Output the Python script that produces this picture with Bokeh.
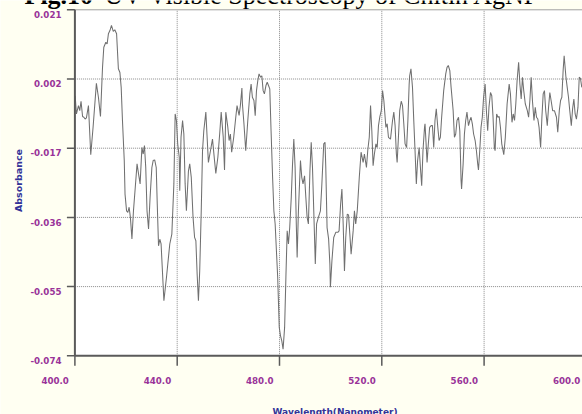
import math
from bokeh.plotting import figure
from bokeh.models import Range1d, Label
from bokeh.embed import file_html
from bokeh.resources import INLINE
from bokeh.core.properties import value

# ---------------- data ----------------
wavelength = [
    400.1, 400.6, 401.4, 401.9, 402.4, 403.0, 403.5, 404.0, 404.5, 405.3, 406.2, 407.1, 408.4, 409.2,
    410.0, 410.8, 411.3, 412.1, 412.6, 413.1, 413.7, 414.3, 415.0, 415.6, 416.3, 417.0, 417.6, 418.1,
    418.6, 419.3, 419.6, 420.2, 420.7, 421.2, 421.7, 422.3, 422.9, 423.6, 424.3, 424.9, 425.5, 426.2,
    426.7, 427.2, 427.7, 428.2, 428.8, 429.4, 430.1, 430.6, 431.2, 431.8, 432.2, 432.7,
    433.2, 433.7, 434.8, 435.8, 437.1, 437.9, 438.7, 439.2, 439.7, 440.2, 440.8, 441.0, 441.5, 442.1,
    442.6, 443.1, 443.6, 444.4, 444.9, 445.5, 446.2, 446.8, 447.3, 447.8, 448.3, 448.8, 449.4, 449.9,
    450.4, 451.2, 451.7, 452.2, 453.0, 453.8, 454.6, 455.1, 455.9, 456.7, 457.2, 458.0, 458.5, 459.0,
    459.8, 460.3, 460.8, 461.3, 462.1, 462.9, 463.4, 464.2, 464.7, 465.3,
    465.5, 466.1, 466.8, 467.6, 468.4, 468.9, 469.4, 470.0, 470.5, 471.0, 471.5, 472.0, 472.6, 473.1,
    473.6, 474.1, 474.7, 475.2, 475.7, 476.2, 476.7, 477.3, 477.8, 478.3, 478.8, 479.3, 479.9, 480.4,
    480.9, 481.4, 482.0, 482.5, 483.0, 483.5, 484.0, 484.6, 485.1, 485.6, 486.1, 486.6, 486.9, 487.4,
    488.2, 488.7, 489.2, 489.8, 490.3, 490.8, 491.3, 491.9, 492.4, 492.9, 493.4, 494.0, 494.5, 495.2,
    496.0, 496.5, 497.3, 497.8,
    498.1, 498.6, 499.2, 499.7, 499.9, 500.5, 501.2, 502.0, 502.8, 503.3, 503.9, 504.4, 504.9, 505.4,
    505.9, 506.5, 507.0, 507.5, 508.0, 508.8, 509.3, 509.8, 510.4, 511.2, 511.9, 512.7, 513.2, 514.0,
    514.5, 515.1, 515.6, 516.1, 516.6, 517.1, 517.7, 518.2, 518.7, 519.2, 519.8, 520.3, 520.8, 521.6,
    522.1, 522.6, 523.4, 524.2, 524.7, 525.2, 525.7, 526.0, 526.5, 527.0, 527.6, 528.1, 528.6, 529.1,
    529.7, 530.2, 530.7,
    530.9, 531.4, 532.0, 532.5, 533.0, 533.5, 534.0, 534.6, 535.1, 535.6, 536.1, 536.7, 536.9, 537.4,
    537.7, 538.2, 538.7, 539.3, 539.8, 540.3, 540.8, 541.3, 541.9, 542.4, 542.9, 543.4, 544.2, 545.0,
    545.5, 546.0, 546.6, 547.1, 547.9, 548.4, 548.9, 549.4, 550.0, 550.5, 551.0, 551.2, 551.8, 552.3,
    552.8, 553.3, 553.9, 554.4, 554.9, 555.4, 555.9, 556.5, 557.0, 557.5, 557.8, 558.3, 558.8, 559.3,
    559.8, 560.4, 560.9, 561.4, 561.9, 562.5, 563.0, 563.5, 564.0,
    564.3, 564.9, 565.4, 565.9, 566.4, 566.9, 567.7, 568.3, 569.0, 569.8, 570.3, 570.9, 571.4, 571.9,
    572.4, 572.9, 573.5, 574.0, 574.5, 575.0, 575.5, 576.1, 576.9, 577.4, 577.9, 578.4, 578.9, 579.5,
    580.0, 580.5, 581.0, 581.5, 582.1, 582.6, 583.1, 583.6, 584.1, 584.7, 585.2, 585.7, 586.2, 586.8,
    587.5, 588.3, 588.8, 589.4, 589.9, 590.4, 590.9, 591.3, 592.0, 592.5, 593.0, 593.5, 594.1, 594.6,
    595.1, 595.6, 596.1, 596.7, 597.2, 597.7, 598.2,
]
absorbance = [
    -0.0026, -0.0076, -0.0053, -0.0067, -0.0041, -0.0083, -0.0085, -0.0090, -0.0087, -0.0053, -0.0188, -0.0113, 0.0008, -0.0030,
    -0.0083, 0.0052, 0.0107, 0.0121, 0.0116, 0.0144, 0.0153, 0.0167, 0.0151, 0.0155, 0.0144, 0.0048, 0.0038, -0.0003,
    -0.0094, -0.0204, -0.0296, -0.0342, -0.0346, -0.0332, -0.0360, -0.0419, -0.0342, -0.0278, -0.0213, -0.0241, -0.0268, -0.0168,
    -0.0186, -0.0163, -0.0223, -0.0342, -0.0392, -0.0305, -0.0223, -0.0204, -0.0202, -0.0223, -0.0323, -0.0438,
    -0.0420, -0.0433, -0.0589, -0.0525, -0.0433, -0.0406, -0.0268, -0.0076, -0.0094, -0.0158, -0.0195, -0.0287, -0.0140, -0.0094,
    -0.0131, -0.0268, -0.0342, -0.0232, -0.0213, -0.0250, -0.0360, -0.0415, -0.0424, -0.0516, -0.0589, -0.0507, -0.0342, -0.0177,
    -0.0122, -0.0071, -0.0140, -0.0209, -0.0177, -0.0145, -0.0204, -0.0239, -0.0195, -0.0122, -0.0071, -0.0140, -0.0230, -0.0071,
    -0.0113, -0.0149, -0.0131, -0.0181, -0.0140, -0.0085, -0.0053, -0.0080, -0.0053, -0.0005,
    -0.0048, -0.0103, -0.0177, -0.0094, -0.0021, 0.0006, -0.0030, -0.0039, -0.0081, -0.0012, 0.0015, 0.0034, 0.0025, 0.0029,
    -0.0012, -0.0021, 0.0002, 0.0011, 0.0002, -0.0007, -0.0122, -0.0250, -0.0342, -0.0378, -0.0452, -0.0525, -0.0662, -0.0685,
    -0.0699, -0.0722, -0.0662, -0.0525, -0.0397, -0.0433, -0.0388, -0.0305, -0.0213, -0.0145, -0.0223, -0.0388, -0.0470, -0.0342,
    -0.0204, -0.0250, -0.0268, -0.0246, -0.0305, -0.0360, -0.0378, -0.0232, -0.0154, -0.0223, -0.0342, -0.0488, -0.0378, -0.0360,
    -0.0342, -0.0278, -0.0158, -0.0154,
    -0.0223, -0.0388, -0.0419, -0.0488, -0.0552, -0.0479, -0.0415, -0.0401, -0.0401, -0.0397, -0.0323, -0.0282, -0.0378, -0.0507,
    -0.0415, -0.0351, -0.0353, -0.0406, -0.0461, -0.0397, -0.0342, -0.0378, -0.0342, -0.0250, -0.0181, -0.0209, -0.0186, -0.0223,
    -0.0177, -0.0140, -0.0053, -0.0122, -0.0218, -0.0186, -0.0158, -0.0168, -0.0108, -0.0085, -0.0067, -0.0012, -0.0039, -0.0113,
    -0.0103, -0.0140, -0.0145, -0.0094, -0.0071, -0.0108, -0.0186, -0.0209, -0.0140, -0.0067, -0.0041, -0.0053, -0.0103, -0.0158,
    -0.0168, -0.0094, 0.0006,
    0.0029, 0.0048, -0.0003, -0.0094, -0.0177, -0.0268, -0.0204, -0.0168, -0.0223, -0.0273, -0.0177, -0.0113, -0.0103, -0.0168,
    -0.0209, -0.0158, -0.0113, -0.0108, -0.0108, -0.0168, -0.0094, -0.0062, -0.0113, -0.0149, -0.0140, -0.0085, -0.0012, 0.0034,
    0.0052, 0.0057, 0.0043, -0.0003, -0.0067, -0.0140, -0.0131, -0.0094, -0.0085, -0.0122, -0.0259, -0.0282, -0.0213, -0.0131,
    -0.0094, -0.0071, -0.0108, -0.0094, -0.0085, -0.0103, -0.0131, -0.0149, -0.0177, -0.0213, -0.0230, -0.0177, -0.0113, -0.0085,
    -0.0030, 0.0006, -0.0067, -0.0122, -0.0058, -0.0017, -0.0026, -0.0085, -0.0168,
    -0.0177, -0.0076, -0.0085, -0.0083, -0.0113, -0.0158, -0.0188, -0.0140, -0.0048, 0.0006, -0.0021, -0.0099, -0.0076, -0.0094,
    -0.0048, 0.0015, 0.0066, 0.0006, -0.0035, 0.0025, -0.0012, -0.0048, -0.0067, -0.0085, -0.0039, 0.0025, -0.0039, -0.0094,
    -0.0058, -0.0085, -0.0090, -0.0113, -0.0168, -0.0085, -0.0021, -0.0012, -0.0067, -0.0108, -0.0058, -0.0017, -0.0039, -0.0067,
    -0.0067, -0.0085, -0.0126, -0.0067, -0.0039, -0.0030, 0.0043, 0.0084, 0.0025, -0.0003, -0.0030, -0.0067, -0.0108, -0.0062,
    -0.0035, -0.0076, -0.0090, -0.0058, 0.0025, 0.0021, -0.0003,
]

x_ticks = [400, 440, 480, 520, 560, 600]
x_tick_labels = ["400.0", "440.0", "480.0", "520.0", "560.0", "600.0"]
y_ticks = [0.021, 0.002, -0.017, -0.036, -0.055, -0.074]
y_tick_labels = ["0.021", "0.002", "-0.017", "-0.036", "-0.055", "-0.074"]

title_bold = "Fig.10"
title_rest = "UV-Visible Spectroscopy of Chitin AgNP"
x_title = "Wavelength(Nanometer)"
y_title = "Absorbance"

# ---------------- layout (pixel geometry of the plot box) ----------------
W, H = 582, 414
X0, X1 = x_ticks[0], x_ticks[-1]
Y0, Y1 = y_ticks[-1], y_ticks[0]
BOX_L, BOX_T, BOX_B = 74.4, 9.3, 355.3          # screen pixels of the plot box
XPP = (x_ticks[1] - x_ticks[0]) / 102.3          # data units per pixel
YPP = (Y1 - Y0) / (BOX_B - BOX_T)

x_start = X0 - BOX_L * XPP
x_end = X0 + (W - BOX_L) * XPP
y_end = Y1 + BOX_T * YPP
y_start = Y0 - (H - BOX_B) * YPP

def sx(px):   # screen x pixel -> data x
    return X0 + (px - BOX_L) * XPP

def sy(py):   # screen y pixel -> data y
    return Y1 - (py - BOX_T) * YPP

TICK_COLOR = "#993399"
TITLE_COLOR = "#333399"
CREAM = "#FFFFF2"
AXIS_COLOR = "#5a5a5a"
SANS = "DejaVu Sans"
SERIF = "Liberation Serif"

p = figure(width=W, height=H, x_range=Range1d(x_start, x_end), y_range=Range1d(y_start, y_end),
           x_axis_type=None, y_axis_type=None, output_backend="svg", toolbar_location=None,
           min_border=0, min_border_left=0, min_border_right=0, min_border_top=0, min_border_bottom=0)
p.background_fill_color = CREAM
p.border_fill_color = CREAM
p.outline_line_color = None

# white plot box
p.quad(left=[X0], right=[X1], bottom=[Y0], top=[Y1], fill_color="white", line_color=None)

# dotted grid lines at the tick positions
p.segment(x0=x_ticks[1:], y0=[Y0] * (len(x_ticks) - 1), x1=x_ticks[1:], y1=[Y1] * (len(x_ticks) - 1),
          line_color="#8a8a8a", line_dash="1 1", line_width=1)
p.segment(x0=[X0] * (len(y_ticks) - 2), y0=y_ticks[1:-1], x1=[X1] * (len(y_ticks) - 2), y1=y_ticks[1:-1],
          line_color="#8a8a8a", line_dash="1 1", line_width=1)

# spectrum
p.line(wavelength, absorbance, line_color="#707070", line_width=1.05)

# box border: light top edge, dark left and bottom axes
p.segment(x0=[X0], y0=[Y1], x1=[X1], y1=[Y1], line_color="#a0a0a0", line_width=1)
p.segment(x0=[X0], y0=[Y0], x1=[X0], y1=[Y1], line_color=AXIS_COLOR, line_width=2)
p.segment(x0=[X0], y0=[Y0], x1=[X1], y1=[Y0], line_color=AXIS_COLOR, line_width=2)

# tick marks
p.segment(x0=[X0 - 8 * XPP] * len(y_ticks), y0=y_ticks, x1=[X0] * len(y_ticks), y1=y_ticks,
          line_color=AXIS_COLOR, line_width=1.5)
p.segment(x0=x_ticks, y0=[Y0] * len(x_ticks), x1=x_ticks, y1=[Y0 - 10 * YPP] * len(x_ticks),
          line_color=AXIS_COLOR, line_width=1.5)

# tick labels (vertically centred on the measured label centres)
p.text(x=x_ticks, y=[Y0 - 25.0 * YPP] * len(x_ticks), text=x_tick_labels, x_offset=-6,
       text_align="right", text_baseline="middle", text_font=value(SANS),
       text_font_style="bold", text_font_size="8.7px", text_color=TICK_COLOR)
p.text(x=[X0 - 13.4 * XPP] * len(y_ticks), y=[t - 4.6 * YPP for t in y_ticks], text=y_tick_labels,
       text_align="right", text_baseline="middle", text_font=value(SANS),
       text_font_style="bold", text_font_size="8.7px", text_color=TICK_COLOR)

# axis titles
p.add_layout(Label(x=sx(334.5), y=sy(411.0), text=x_title, text_align="center",
                   text_baseline="middle", text_font=SANS, text_font_style="bold",
                   text_font_size="9px", text_color=TITLE_COLOR))
p.add_layout(Label(x=sx(17.5), y=sy(180), text=y_title, angle=math.pi / 2, text_align="center",
                   text_baseline="middle", text_font=SANS, text_font_style="bold",
                   text_font_size="9.5px", text_color=TITLE_COLOR))

# figure caption (its upper part lies above the page edge, as in the source)
p.add_layout(Label(x=sx(24), y=sy(-4.8), text=title_bold, text_align="left",
                   text_baseline="middle", text_font=SERIF, text_font_style="bold",
                   text_font_size="26px", text_color="black"))
p.add_layout(Label(x=sx(104), y=sy(-4.8), text=title_rest, text_align="left",
                   text_baseline="middle", text_font=SERIF, text_font_style="normal",
                   text_font_size="26px", text_color="black"))

open("out.html", "w").write(file_html(p, INLINE))
